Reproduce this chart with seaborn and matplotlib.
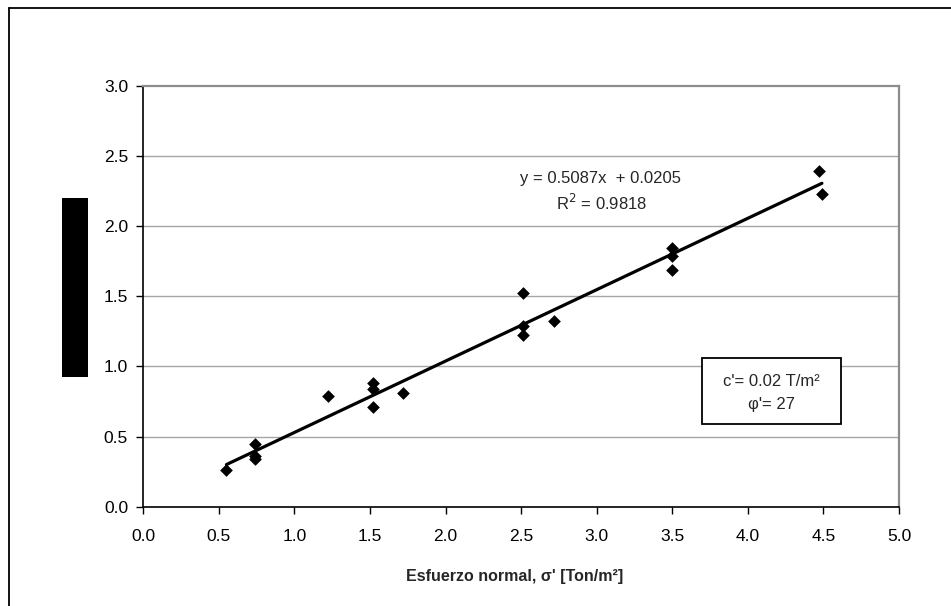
import numpy as np
import pandas as pd
import matplotlib
matplotlib.use("Agg")
import matplotlib.pyplot as plt
from matplotlib.lines import Line2D
from matplotlib.patches import Rectangle
import seaborn as sns

# ---- data ----
sigma = [0.55, 0.74, 0.74, 0.74, 1.22, 1.52, 1.52, 1.52, 1.72, 2.51, 2.51, 2.51,
         2.72, 3.50, 3.50, 3.50, 4.47, 4.49]
tau = [0.26, 0.45, 0.36, 0.34, 0.79, 0.88, 0.84, 0.71, 0.81, 1.52, 1.29, 1.22,
       1.32, 1.84, 1.79, 1.69, 2.39, 2.23]
slope = 0.5087
intercept = 0.0205
r2 = 0.9818
x_ticks = [0.0, 0.5, 1.0, 1.5, 2.0, 2.5, 3.0, 3.5, 4.0, 4.5, 5.0]
y_ticks = [0.0, 0.5, 1.0, 1.5, 2.0, 2.5, 3.0]

df = pd.DataFrame({"sigma": sigma, "tau": tau})
fit_x = [min(sigma), max(sigma)]
fit = pd.DataFrame({"x": fit_x, "y": [slope * v + intercept for v in fit_x]})

sns.set_theme(style="white")
plt.rcParams["font.family"] = ["Liberation Sans", "DejaVu Sans"]

W, H = 951, 606
fig = plt.figure(figsize=(W / 100, H / 100), dpi=100)
ax = fig.add_axes([143.3 / W, 1 - 506.7 / H, (899 - 143.3) / W, (506.7 - 85.7) / H])

for yv in y_ticks[1:-1]:
    ax.axhline(yv, color="#a6a6a6", lw=1.0, zorder=0)

sns.lineplot(data=fit, x="x", y="y", ax=ax, color="black", lw=2.3, zorder=2)
sns.scatterplot(data=df, x="sigma", y="tau", ax=ax, marker="D", s=42,
                color="black", edgecolor="black", linewidth=0, zorder=3)

ax.set_xlim(0, 5)
ax.set_ylim(0, 3)
ax.set_xticks(x_ticks)
ax.set_yticks(y_ticks)
ax.set_xticklabels([f"{v:.1f}" for v in x_ticks])
ax.set_yticklabels([f"{v:.1f}" for v in y_ticks])
ax.tick_params(axis="both", which="both", direction="out", length=5, width=1,
               colors="black", labelsize=12.5, bottom=True, left=True)
ax.tick_params(axis="x", pad=11)
ax.tick_params(axis="y", pad=6)
ax.set_ylabel("")
ax.set_xlabel("Esfuerzo normal, σ' [Ton/m²]", fontsize=11.5, fontweight="bold")
ax.xaxis.set_label_coords((515 - 143.3) / (899 - 143.3), -(569 - 506.7) / (506.7 - 85.7))

for s in ["left", "bottom"]:
    ax.spines[s].set_color("black")
    ax.spines[s].set_linewidth(1.2)
for s in ["top", "right"]:
    ax.spines[s].set_color("#8c8c8c")
    ax.spines[s].set_linewidth(1.6)

# trendline annotation
ax.text(601 / W, 1 - 179 / H, f"y = {slope:.4f}x  + {intercept:.4f}",
        transform=fig.transFigure, ha="center", va="center", fontsize=12)
ax.text(602 / W, 1 - 203 / H, f"R$^{{2}}$ = {r2:.4f}",
        transform=fig.transFigure, ha="center", va="center", fontsize=12)

# parameter box
fig.add_artist(Rectangle((702 / W, 1 - 424 / H), (841 - 702) / W, (424 - 358) / H,
                         transform=fig.transFigure, facecolor="white",
                         edgecolor="black", lw=1.3, zorder=5))
fig.text(771 / W, 1 - 381 / H, "c'= 0.02 T/m²", ha="center", va="center",
         fontsize=12, zorder=6)
fig.text(771 / W, 1 - 405 / H, "φ'= 27", ha="center", va="center",
         fontsize=12, zorder=6)

# obscured y-axis label (black block)
fig.add_artist(Rectangle((62 / W, 1 - 377 / H), (88 - 62) / W, (377 - 198) / H,
                         transform=fig.transFigure, facecolor="black",
                         edgecolor="none", zorder=5))

# outer chart border (top and left visible)
fig.add_artist(Line2D([8.5 / W, 8.5 / W], [0, 1 - 7.5 / H], transform=fig.transFigure,
                      color="black", lw=1.3))
fig.add_artist(Line2D([8.5 / W, 1], [1 - 7.5 / H, 1 - 7.5 / H], transform=fig.transFigure,
                      color="black", lw=1.3))

fig.savefig("out.png", dpi=100, facecolor="white")
